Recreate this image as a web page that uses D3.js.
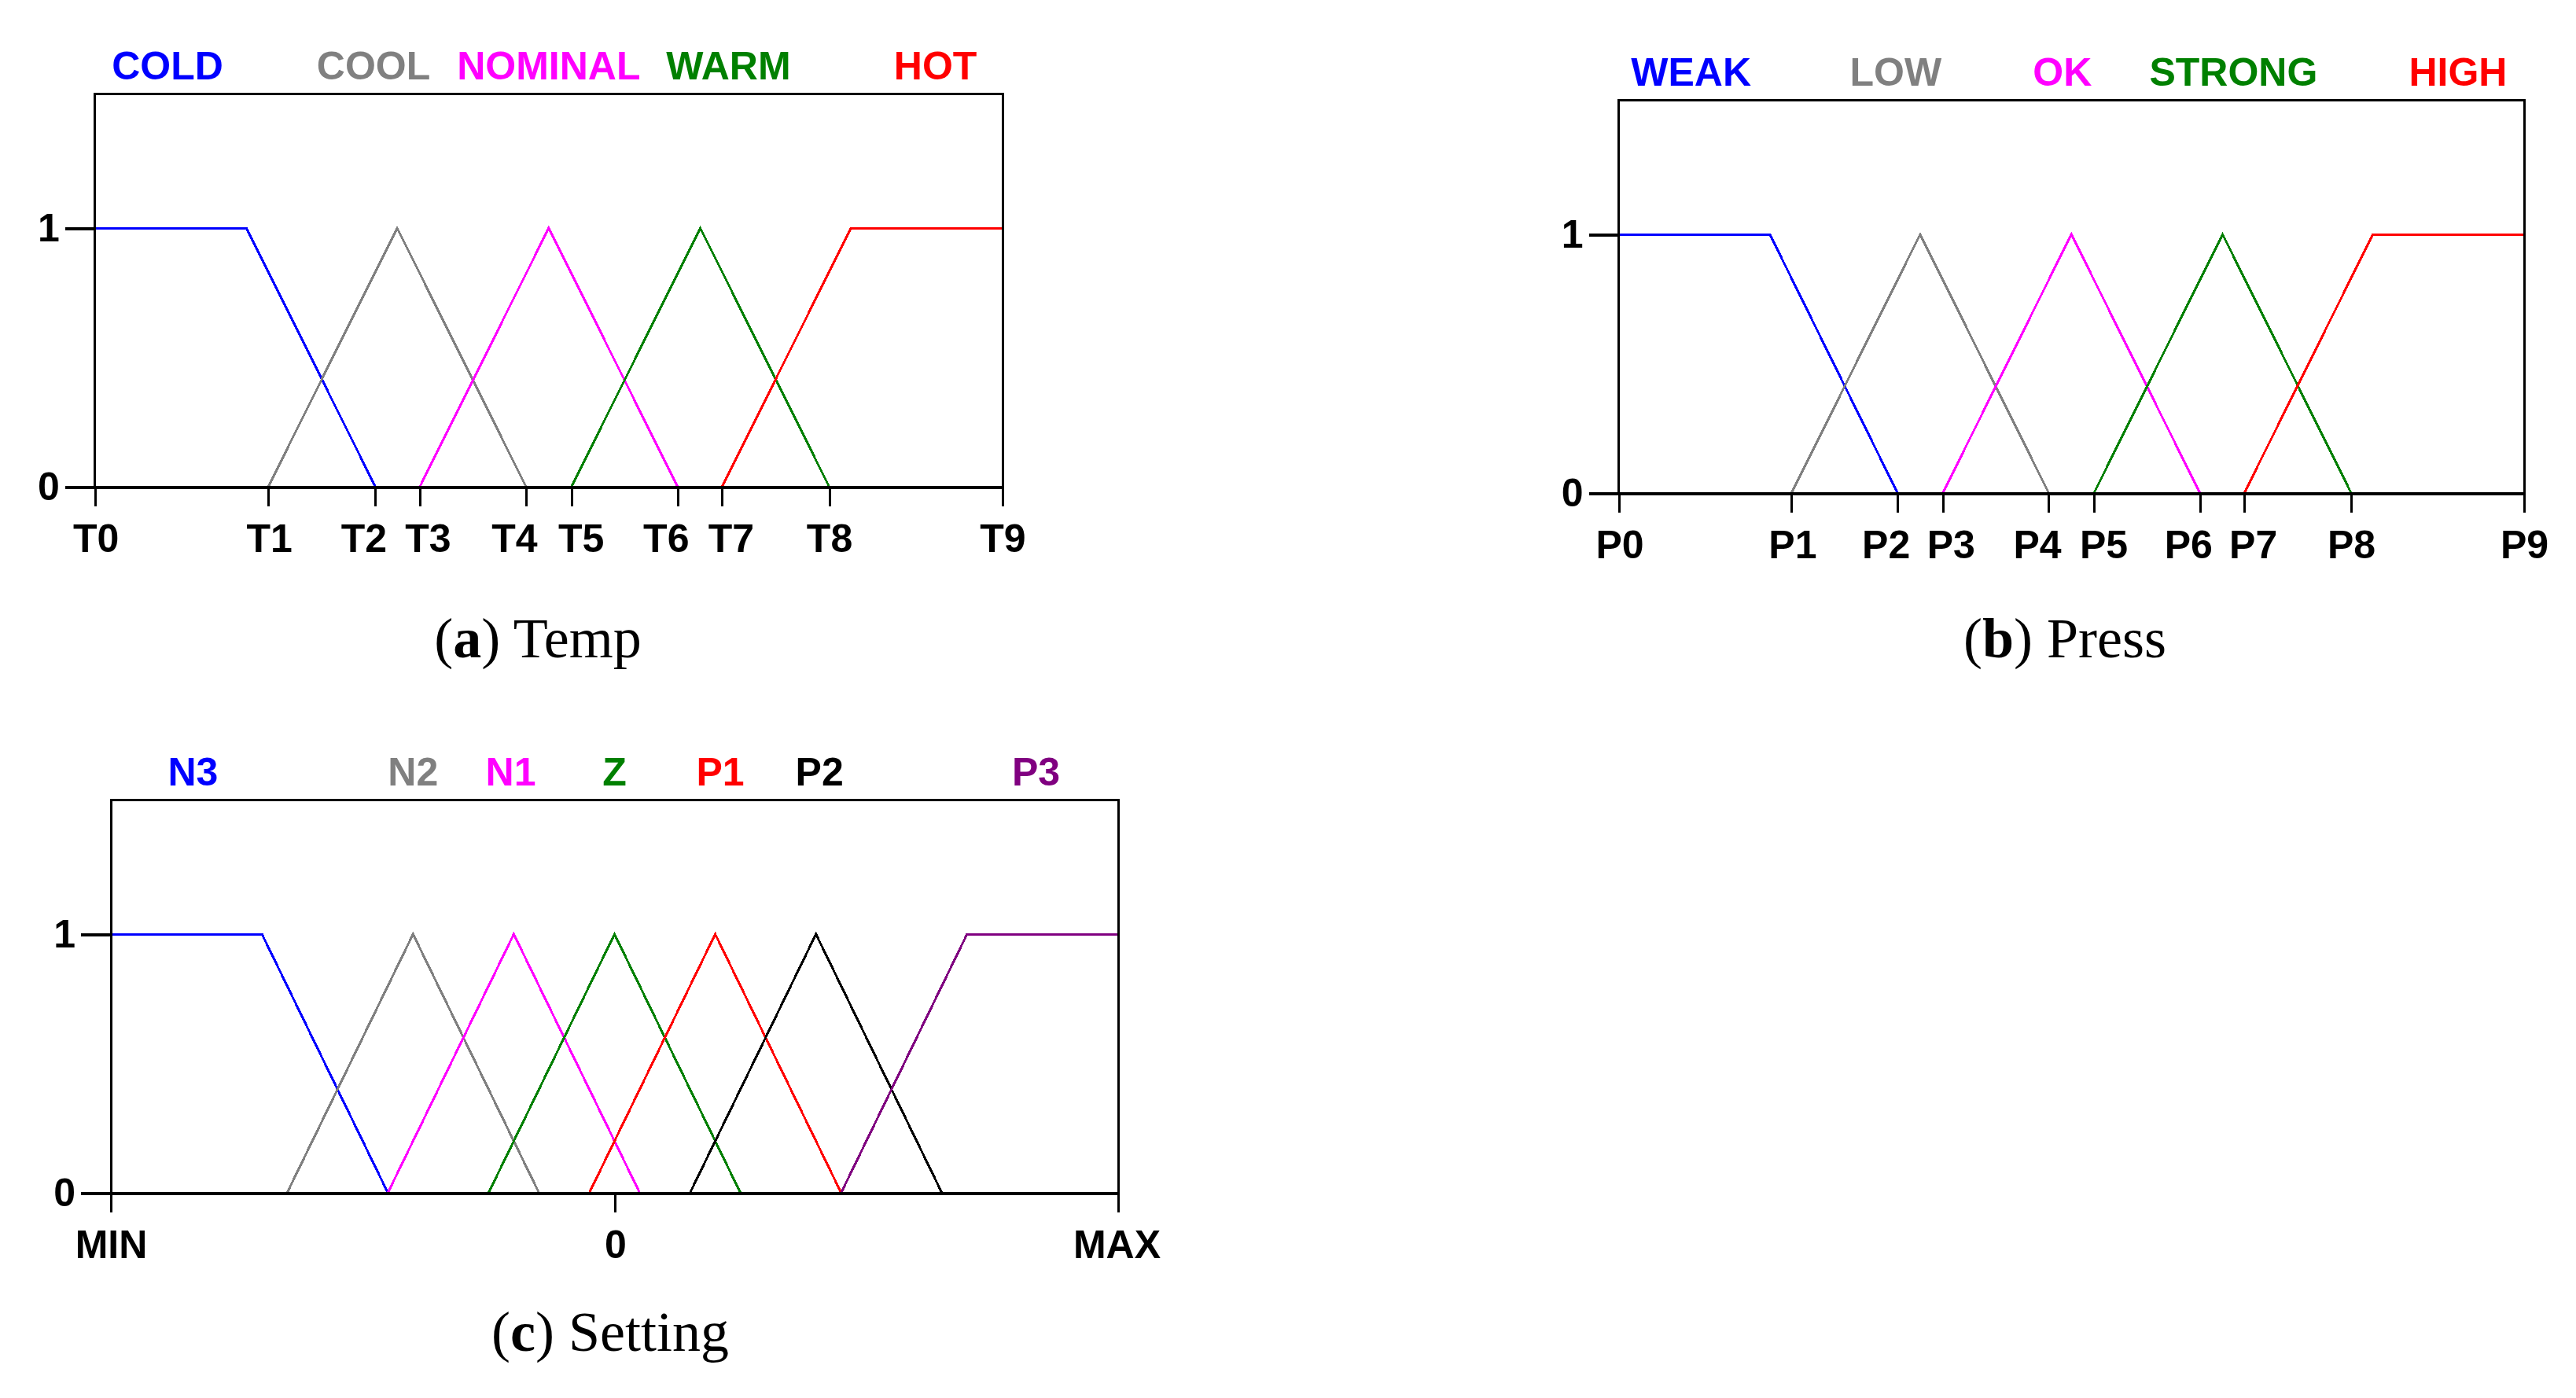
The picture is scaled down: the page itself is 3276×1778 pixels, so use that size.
<!DOCTYPE html>
<html>
<head>
<meta charset="utf-8">
<script src="https://cdn.jsdelivr.net/npm/d3@7"></script>
<style>
  html, body { margin: 0; padding: 0; background: #ffffff; }
  svg { display: block; }
</style>
</head>
<body>
<script>
// ---------------- DATA ----------------
// (a) Temp
const tempTickLabels = ["T0","T1","T2","T3","T4","T5","T6","T7","T8","T9"];
const tempTickValues = [0, 19.1, 30.9, 35.8, 47.5, 52.5, 64.2, 69.1, 80.9, 100];
const tempSets = ["COLD","COOL","NOMINAL","WARM","HOT"];
const tempSetPoints = [
  [[0,1],[16.7,1],[30.9,0]],
  [[19.1,0],[33.3,1],[47.5,0]],
  [[35.8,0],[50,1],[64.2,0]],
  [[52.5,0],[66.7,1],[80.9,0]],
  [[69.1,0],[83.3,1],[100,1]]
];
const tempLabelPos = [8.0, 30.7, 50.0, 69.8, 92.6];

// (b) Press
const pressTickLabels = ["P0","P1","P2","P3","P4","P5","P6","P7","P8","P9"];
const pressTickValues = [0, 19.1, 30.8, 35.8, 47.5, 52.5, 64.2, 69.1, 80.9, 100];
const pressSets = ["WEAK","LOW","OK","STRONG","HIGH"];
const pressSetPoints = [
  [[0,1],[16.7,1],[30.8,0]],
  [[19.1,0],[33.3,1],[47.5,0]],
  [[35.8,0],[50,1],[64.2,0]],
  [[52.5,0],[66.7,1],[80.9,0]],
  [[69.1,0],[83.3,1],[100,1]]
];
const pressLabelPos = [8.0, 30.6, 49.0, 67.9, 92.7];

// (c) Setting
const settingTickLabels = ["MIN","0","MAX"];
const settingTickValues = [-1, 0, 1];
const settingSets = ["N3","N2","N1","Z","P1","P2","P3"];
const settingSetPoints = [
  [[-1,1],[-0.7,1],[-0.45,0]],
  [[-0.65,0],[-0.4,1],[-0.15,0]],
  [[-0.45,0],[-0.2,1],[0.05,0]],
  [[-0.25,0],[0,1],[0.25,0]],
  [[-0.05,0],[0.2,1],[0.45,0]],
  [[0.15,0],[0.4,1],[0.65,0]],
  [[0.45,0],[0.7,1],[1,1]]
];
const settingLabelPos = [-0.837, -0.40, -0.206, 0.0, 0.21, 0.407, 0.837];

const membershipTicks = [0, 1];
const captionLetters = ["a","b","c"];
const captionNames = ["Temp","Press","Setting"];

// ---------------- STYLES / LAYOUT ----------------
const colors5 = ["#0000ff","#808080","#ff00ff","#008000","#ff0000"];
const colors7 = ["#0000ff","#808080","#ff00ff","#008000","#ff0000","#000000","#800080"];
// horizontal nudges of tick labels (pixels), as in the original layout
const tickNudge10 = [1, 1, -15, 10, -15, 12, -15, 11, 0, 0];
const tickNudge3 = [0, 1, -2];

const W = 3276, H = 1778;
const sansFont = "'Liberation Sans', Arial, Helvetica, sans-serif";
const serifFont = "'Liberation Serif', 'Times New Roman', serif";

const panels = [
  { x0: 120.7, x1: 1275, y0: 619, yTop: 119, domain: [0,100],
    ticks: tempTickValues, tickLabels: tempTickLabels, sets: tempSets,
    points: tempSetPoints, labelPos: tempLabelPos, colors: colors5,
    nudge: tickNudge10, capX: 684, capY: 836 },
  { x0: 2058.5, x1: 3210, y0: 627, yTop: 127, domain: [0,100],
    ticks: pressTickValues, tickLabels: pressTickLabels, sets: pressSets,
    points: pressSetPoints, labelPos: pressLabelPos, colors: colors5,
    nudge: tickNudge10, capX: 2626, capY: 836 },
  { x0: 141, x1: 1422, y0: 1517, yTop: 1017, domain: [-1,1],
    ticks: settingTickValues, tickLabels: settingTickLabels, sets: settingSets,
    points: settingSetPoints, labelPos: settingLabelPos, colors: colors7,
    nudge: tickNudge3, capX: 776, capY: 1718 }
];

const svg = d3.select("body").append("svg")
  .attr("width", W).attr("height", H)
  .attr("viewBox", `0 0 ${W} ${H}`);

svg.append("rect").attr("width", W).attr("height", H).attr("fill", "#fff");

panels.forEach((p, i) => {
  const x = d3.scaleLinear().domain(p.domain).range([p.x0, p.x1]);
  const y = d3.scaleLinear().domain([0, 1.52]).range([p.y0, p.yTop]);
  const g = svg.append("g");

  // membership function lines
  const line = d3.line().x(d => x(d[0])).y(d => y(d[1]));
  g.selectAll("path.mf").data(p.points).join("path")
    .attr("class", "mf")
    .attr("d", line)
    .attr("fill", "none")
    .attr("stroke", (d, k) => p.colors[k])
    .attr("stroke-width", 3)
    .attr("stroke-linejoin", "miter")
    .attr("shape-rendering", "crispEdges");

  // frame (top, left, right)
  g.append("path")
    .attr("d", `M${x(p.domain[0])},${y(0)} V${y(1.52)} H${x(p.domain[1])} V${y(0)}`)
    .attr("fill", "none").attr("stroke", "#000").attr("stroke-width", 3)
    .attr("shape-rendering", "crispEdges");

  // bottom axis
  const xAxis = d3.axisBottom(x)
    .tickValues(p.ticks)
    .tickFormat((d, k) => p.tickLabels[k])
    .tickSize(25).tickSizeOuter(0).tickPadding(22);
  const gx = g.append("g").attr("transform", `translate(0,${y(0)})`).call(xAxis);
  gx.select(".domain").attr("stroke-width", 4).attr("shape-rendering", "crispEdges");
  gx.selectAll(".tick line").attr("stroke-width", 3).attr("shape-rendering", "crispEdges");
  gx.selectAll(".tick text")
    .attr("font-family", sansFont).attr("font-weight", "bold")
    .attr("font-size", 50).attr("fill", "#000")
    .attr("dx", (d, k) => p.nudge[k]);

  // left axis
  const yAxis = d3.axisLeft(y).tickValues(membershipTicks)
    .tickFormat(d3.format("d")).tickSize(38).tickSizeOuter(0).tickPadding(7);
  const gy = g.append("g").attr("transform", `translate(${x(p.domain[0])},0)`).call(yAxis);
  gy.select(".domain").remove();
  gy.selectAll(".tick line").attr("stroke-width", 4).attr("shape-rendering", "crispEdges");
  gy.selectAll(".tick text")
    .attr("font-family", sansFont).attr("font-weight", "bold")
    .attr("font-size", 50).attr("fill", "#000");

  // set labels above the frame
  g.selectAll("text.setlabel").data(p.sets).join("text")
    .attr("class", "setlabel")
    .attr("x", (d, k) => x(p.labelPos[k]))
    .attr("y", y(0) - 518)
    .attr("text-anchor", "middle")
    .attr("font-family", sansFont).attr("font-weight", "bold")
    .attr("font-size", 50)
    .attr("fill", (d, k) => p.colors[k])
    .text(d => d);

  // caption
  const cap = svg.append("text")
    .attr("x", p.capX).attr("y", p.capY)
    .attr("text-anchor", "middle")
    .attr("font-family", serifFont).attr("font-size", 72).attr("fill", "#000");
  cap.append("tspan").text("(");
  cap.append("tspan").attr("font-weight", "bold").text(captionLetters[i]);
  cap.append("tspan").text(") " + captionNames[i]);
});
</script>
</body>
</html>
